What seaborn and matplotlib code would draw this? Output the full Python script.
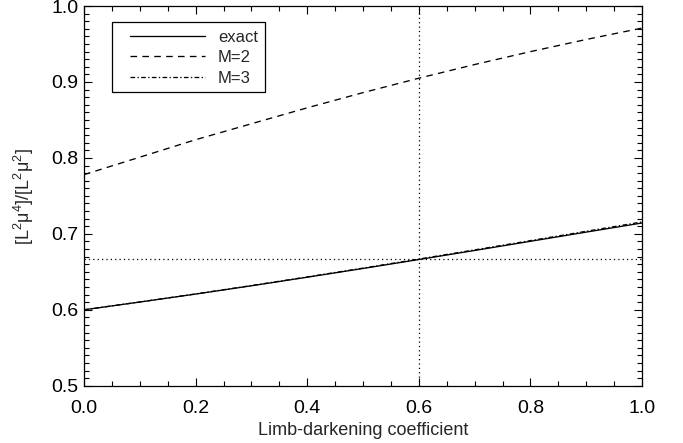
import numpy as np
import pandas as pd
import matplotlib
matplotlib.use("Agg")
import matplotlib.pyplot as plt
from matplotlib.patches import Rectangle
import seaborn as sns

# values
coef = [0.0, 0.1, 0.2, 0.3, 0.4, 0.5, 0.6, 0.7, 0.8, 0.9, 1.0]
exact = [0.600, 0.6102, 0.6207, 0.6316, 0.6429, 0.6544, 0.6662, 0.6781, 0.6902, 0.7023, 0.7143]
m2 = [0.778, 0.801, 0.824, 0.845, 0.866, 0.886, 0.905, 0.923, 0.940, 0.956, 0.971]
m3 = [0.600, 0.6103, 0.6209, 0.6319, 0.6433, 0.6549, 0.6668, 0.6789, 0.6911, 0.7034, 0.7157]
series = ["exact", "M=2", "M=3"]
hline_y = 2 / 3
vline_x = 0.6

df = pd.DataFrame({"coef": coef * 3,
                   "ratio": exact + m2 + m3,
                   "model": [s for s in series for _ in coef]})

sns.set_style("ticks")
plt.rcParams["font.family"] = ["Liberation Sans", "DejaVu Sans"]
plt.rcParams["mathtext.fontset"] = "custom"
plt.rcParams["mathtext.rm"] = "Liberation Sans"
plt.rcParams["mathtext.it"] = "Liberation Sans"

fig = plt.figure(figsize=(6.83, 4.43), dpi=100)
ax = fig.add_axes([0.123, 0.1293, 0.817, 0.857])

styles = {"exact": "-", "M=2": (0, (5, 4)), "M=3": (0, (3.5, 1.8, 1, 1.8))}
for name in series:
    sns.lineplot(data=df[df["model"] == name], x="coef", y="ratio", ax=ax,
                 color="black", lw=0.95, linestyle=styles[name], label=name)

ax.axhline(hline_y, color="black", lw=0.9, linestyle=(0, (1, 2.5)))
ax.axvline(vline_x, color="black", lw=0.9, linestyle=(0, (1, 2.5)))

ax.set_xlim(0, 1)
ax.set_ylim(0.5, 1.0)
ax.set_xticks(np.arange(0, 1.01, 0.2))
ax.set_xticks(np.arange(0, 1.001, 0.05), minor=True)
ax.set_yticks(np.arange(0.5, 1.01, 0.1))
ax.set_yticks(np.arange(0.5, 1.0001, 0.01), minor=True)
ax.xaxis.set_major_formatter(matplotlib.ticker.FormatStrFormatter("%.1f"))
ax.yaxis.set_major_formatter(matplotlib.ticker.FormatStrFormatter("%.1f"))
ax.tick_params(which="both", direction="in", top=True, right=True,
               width=0.8, labelsize=14, colors="black")
ax.tick_params(which="major", length=6)
ax.tick_params(which="minor", length=3.5)
ax.tick_params(axis="x", which="major", pad=10)
ax.tick_params(axis="y", which="major", pad=4)
for sp in ax.spines.values():
    sp.set_linewidth(0.9)
    sp.set_color("black")

ax.set_xlabel("Limb-darkening coefficient", fontsize=13, labelpad=4)
ax.set_ylabel(r"[L$^{2}$μ$^{4}$]/[L$^{2}$μ$^{2}$]", fontsize=13, labelpad=11)

# legend box drawn by hand so the entries can sit off-centre like the original
ax.add_patch(Rectangle((0.050, 0.773), 0.274, 0.185, transform=ax.transAxes,
                       fill=False, edgecolor="black", lw=0.9, zorder=5))
leg = ax.legend(loc="upper left", bbox_to_anchor=(0.082, 0.938), fontsize=12,
                frameon=False, handlelength=4.5, handletextpad=0.8,
                borderpad=0, labelspacing=0.33, borderaxespad=0)

fig.savefig("out.png", dpi=100)
